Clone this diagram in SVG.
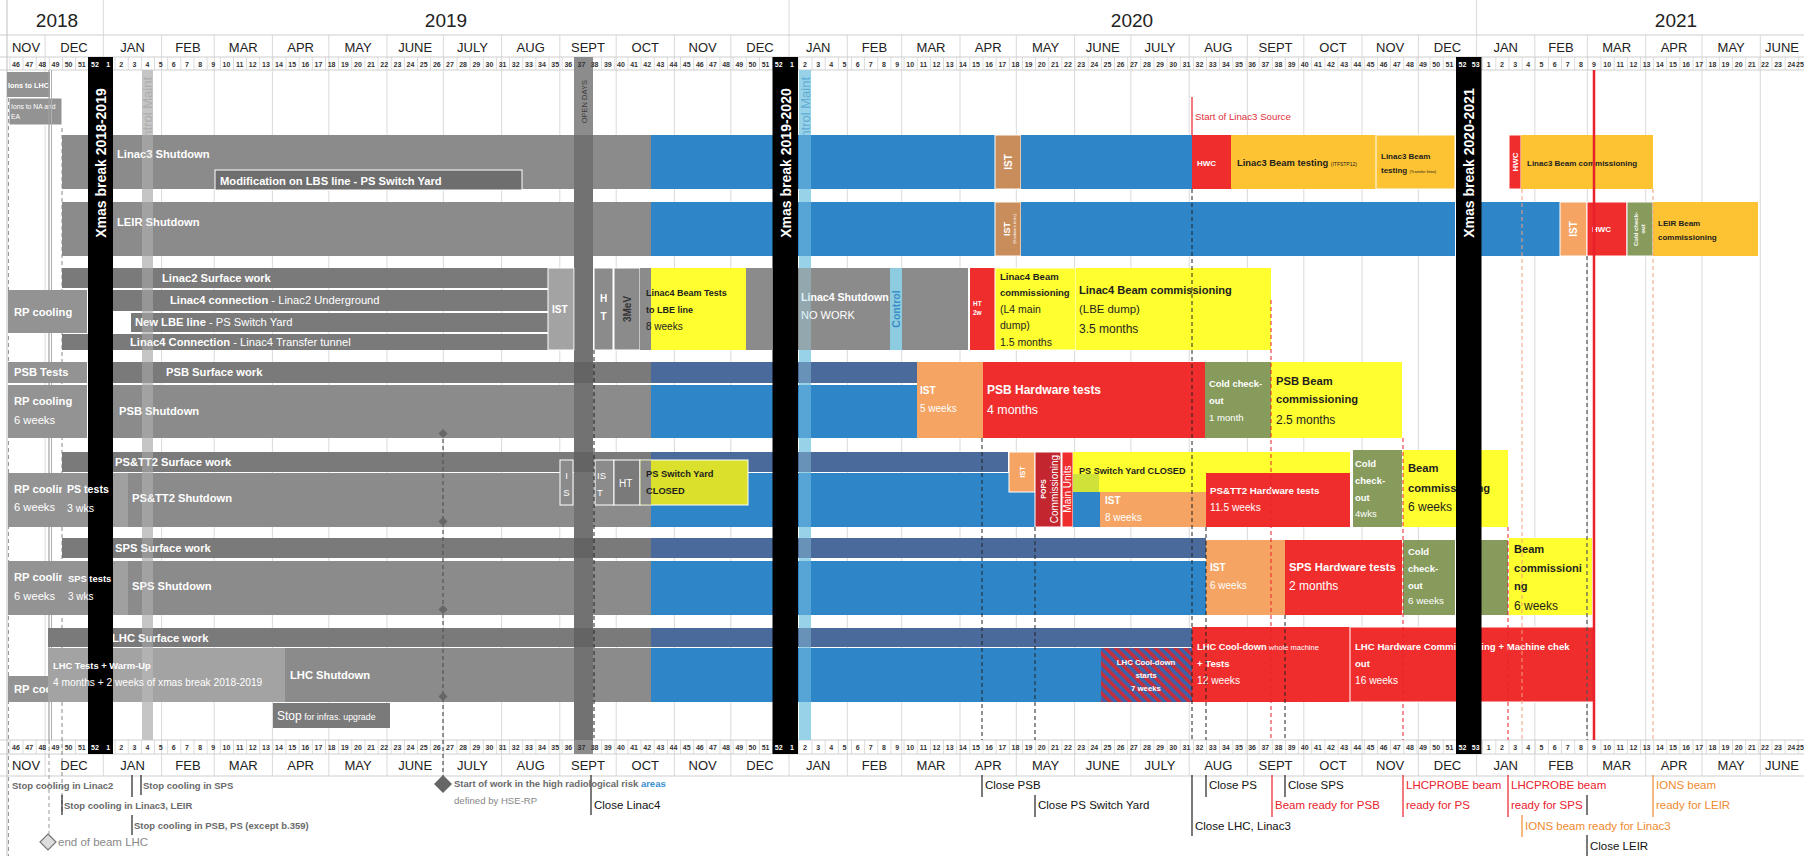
<svg xmlns="http://www.w3.org/2000/svg" width="1804" height="856" viewBox="0 0 1804 856">
<defs>
<style>
text{font-family:'Liberation Sans',Arial,sans-serif}
.g{fill:#8b8b8b}.gs{fill:#7a7a7a}.gl{fill:#a3a3a3}.gb{fill:#939393}
.b{fill:#2e86c8}.bd{fill:#4a6a9c}.r{fill:#f02d2d}.o{fill:#fdc332}.y{fill:#ffff30}
.i{fill:#f5a463}.br{fill:#c98c5b}.gr{fill:#879b5c}.p{fill:#c42630}
.sw{stroke:#fff;stroke-width:1}
.w{fill:#fff;font-weight:bold}
.k{fill:#1e1e1e;font-weight:bold}
.n{font-weight:normal}
.lbl{font-size:11.2px}
.wk{font-size:7px;font-weight:bold;fill:#333;text-anchor:middle}
.wkw{fill:#fff}
.mo{font-size:13px;fill:#222;text-anchor:middle}
.yr{font-size:19px;fill:#222;text-anchor:middle}
.ann{font-size:11.5px;fill:#111}
.red{fill:#e8212b}
.org{fill:#ef8a2e}
.gann{font-size:9.5px;fill:#6a6a6a;font-weight:bold}
.dk{stroke:#222;stroke-width:1;stroke-dasharray:4 3;fill:none}
.dr{stroke:#e8212b;stroke-width:1;stroke-dasharray:4 3;fill:none}
.ds{stroke:#f2a07a;stroke-width:1;stroke-dasharray:4 3;fill:none}
.dg{stroke:#555;stroke-width:1.2;stroke-dasharray:4 3;fill:none}
.tk{stroke:#222;stroke-width:1.2;fill:none}
.tkr{stroke:#e8212b;stroke-width:1.2;fill:none}
.tko{stroke:#ef8a2e;stroke-width:1.2;fill:none}
.xt{fill:#fff;font-weight:bold;font-size:14px;text-anchor:middle}
.dia{fill:#666}
</style>
<pattern id="wkp" x="9.4" y="0" width="13.15" height="20" patternUnits="userSpaceOnUse"><rect width="13.15" height="20" fill="#fff"/><rect width="0.8" height="20" fill="#d4d4d4"/></pattern>
<pattern id="hatch" width="7" height="7" patternUnits="userSpaceOnUse" patternTransform="rotate(-45)"><rect width="7" height="7" fill="#3a63ad"/><rect width="3.5" height="7" fill="#c52f3b"/></pattern>
<clipPath id="clipRP"><rect x="8" y="470" width="54" height="150"/></clipPath>
<clipPath id="clipRP2"><rect x="8" y="676" width="40" height="26"/></clipPath>
</defs>
<rect width="1804" height="856" fill="#fff"/>
<rect x="0" y="57" width="1804" height="13" fill="url(#wkp)"/>
<rect x="0" y="740" width="1804" height="14" fill="url(#wkp)"/>
<g id="grid" stroke="#dadada" stroke-width="1" fill="none">
<path d="M103.3 0V776M789 0V776M1476.6 0V776M45.1 35V776M161.6 35V776M214.2 35V776M272.4 35V776M328.8 35V776M387 35V776M443.4 35V776M501.6 35V776M559.8 35V776M616.2 35V776M674.4 35V776M730.8 35V776M847.3 35V776M901.7 35V776M960 35V776M1016.3 35V776M1074.6 35V776M1130.9 35V776M1189.2 35V776M1247.4 35V776M1303.8 35V776M1362 35V776M1418.4 35V776M1534.8 35V776M1587.4 35V776M1645.7 35V776M1702 35V776M1760.3 35V776"/>
<path d="M0 35H1804M0 57H1804M0 70H1804M0 740H1804M0 754H1804M0 776H1804" stroke="#cfcfcf"/>
<path d="M7 0V856" stroke="#c0c0c0"/>
</g>
<g id="years" class="yr">
<text x="57" y="27">2018</text>
<text x="446" y="27">2019</text>
<text x="1132" y="27">2020</text>
<text x="1676" y="27">2021</text>
</g>
<g id="months" class="mo">
<text x="26" y="51.5">NOV</text><text x="74" y="51.5">DEC</text>
<text x="132.5" y="51.5">JAN</text><text x="188" y="51.5">FEB</text><text x="243.3" y="51.5">MAR</text><text x="300.6" y="51.5">APR</text><text x="358" y="51.5">MAY</text><text x="415.2" y="51.5">JUNE</text><text x="472.5" y="51.5">JULY</text><text x="530.7" y="51.5">AUG</text><text x="588" y="51.5">SEPT</text><text x="645.3" y="51.5">OCT</text><text x="702.6" y="51.5">NOV</text><text x="760" y="51.5">DEC</text>
<text x="818.2" y="51.5">JAN</text><text x="874.5" y="51.5">FEB</text><text x="931" y="51.5">MAR</text><text x="988.2" y="51.5">APR</text><text x="1045.5" y="51.5">MAY</text><text x="1102.8" y="51.5">JUNE</text><text x="1160" y="51.5">JULY</text><text x="1218.3" y="51.5">AUG</text><text x="1275.6" y="51.5">SEPT</text><text x="1333" y="51.5">OCT</text><text x="1390.2" y="51.5">NOV</text><text x="1447.5" y="51.5">DEC</text>
<text x="1505.7" y="51.5">JAN</text><text x="1561" y="51.5">FEB</text><text x="1616.6" y="51.5">MAR</text><text x="1674" y="51.5">APR</text><text x="1731.2" y="51.5">MAY</text><text x="1782" y="51.5">JUNE</text>
</g>
<use href="#months" y="718"/>
<g id="columns">
<rect x="142" y="70" width="11" height="670" fill="#bdbdbd"/>
<text transform="translate(152,77) rotate(-90)" text-anchor="end" font-size="13" fill="#9a9a9a">Control Maint</text>
<rect x="799" y="70" width="12" height="670" fill="#92cde3"/>
<text transform="translate(810,77) rotate(-90)" text-anchor="end" font-size="13" fill="#3d93c4">Control Maint</text>
<rect x="574" y="57" width="19" height="697" fill="#8c8c8c"/>
<text transform="translate(586.5,80) rotate(-90)" text-anchor="end" font-size="7.5" fill="#3c3c3c">OPEN DAYS</text>
</g>
<g id="ions">
<rect x="7" y="72" width="43" height="25" class="gb"/>
<text x="8" y="88" class="w" font-size="7.3">Ions to LHC</text>
<rect x="9" y="98" width="53" height="27" class="gb sw"/>
<text x="11" y="109" class="w n" font-size="6.8">Ions to NA and</text>
<text x="11" y="119" class="w n" font-size="6.8">EA</text>
</g>
<g id="leftlines" fill="none">
<path d="M49 70V740" stroke="#a0a0a0" stroke-width="1.2"/>
<path d="M51.5 70V740" stroke="#b0b0b0"/>
<path d="M49 740V834" stroke="#999" stroke-dasharray="4 3"/>
<path d="M62 128V812" stroke="#888" stroke-dasharray="4 3"/>
<path d="M8.5 98V856" stroke="#999" stroke-dasharray="4 3"/>
</g>
<g id="linac3">
<rect x="62" y="135" width="589" height="54" class="g"/>
<rect x="651" y="135" width="344" height="54" class="b"/>
<rect x="995" y="135" width="26" height="54" class="br sw"/>
<rect x="1021" y="135" width="171" height="54" class="b"/>
<rect x="1192" y="135" width="39" height="54" class="r"/>
<rect x="1231" y="135" width="145" height="54" class="o"/>
<rect x="1376" y="135" width="79" height="54" class="o sw"/>
<rect x="215" y="170" width="307" height="20" fill="#6e6e6e" class="sw"/>
<text x="117" y="158" class="w lbl">Linac3 Shutdown</text>
<text x="220" y="184.5" class="w lbl">Modification on LBS line - PS Switch Yard</text>
<text transform="translate(1011.5,162) rotate(-90)" class="w" font-size="10" text-anchor="middle">IST</text>
<text x="1197" y="166" class="w" font-size="8">HWC</text>
<text x="1237" y="166" class="k" font-size="9.4">Linac3 Beam testing <tspan font-size="5" class="n">(ITFSTP12)</tspan></text>
<text x="1381" y="159" class="k" font-size="8">Linac3 Beam</text>
<text x="1381" y="173" class="k" font-size="8">testing <tspan font-size="4" class="n">(Transfer lines)</tspan></text>
<rect x="1509" y="135" width="12" height="54" class="r sw"/>
<text transform="translate(1518,162) rotate(-90)" class="w" font-size="8" text-anchor="middle">HWC</text>
<rect x="1521" y="135" width="132" height="54" class="o"/>
<text x="1527" y="166" class="k" font-size="8">Linac3 Beam commissioning</text>
</g>
<g id="leir">
<rect x="62" y="202" width="589" height="54" class="g"/>
<rect x="651" y="202" width="344" height="54" class="b"/>
<rect x="995" y="202" width="26" height="54" class="br sw"/>
<rect x="1021" y="202" width="434" height="54" class="b"/>
<text x="117" y="226" class="w lbl">LEIR Shutdown</text>
<text transform="translate(1010,229) rotate(-90)" class="w" font-size="9" text-anchor="middle">IST</text>
<text transform="translate(1016,229) rotate(-90)" class="w n" font-size="4" text-anchor="middle">(Hardware tests)</text>
<rect x="1481" y="202" width="79" height="54" class="b"/>
<rect x="1560" y="202" width="27" height="54" class="i sw"/>
<text transform="translate(1577,229) rotate(-90)" class="w" font-size="10" text-anchor="middle">IST</text>
<rect x="1587" y="202" width="40" height="54" class="r sw"/>
<text x="1592" y="232" class="w" font-size="8">HWC</text>
<rect x="1627" y="202" width="26" height="54" class="gr sw"/>
<text transform="translate(1638,229) rotate(-90)" class="w" font-size="6" text-anchor="middle">Cold check-</text>
<text transform="translate(1645,229) rotate(-90)" class="w" font-size="6" text-anchor="middle">out</text>
<rect x="1653" y="202" width="105" height="54" class="o"/>
<text x="1658" y="226" class="k" font-size="8">LEIR Beam</text>
<text x="1658" y="240" class="k" font-size="8">commissioning</text>
</g>
<g id="linac2-linac4">
<rect x="62" y="268" width="486" height="20" class="gs"/>
<rect x="113" y="290" width="435" height="21" class="gs"/>
<rect x="131" y="313" width="417" height="19" class="gs"/>
<rect x="62" y="334" width="486" height="16" class="gs"/>
<rect x="8" y="290" width="79" height="43" class="gb"/>
<text x="14" y="316" class="w lbl">RP cooling</text>
<text x="162" y="282" class="w lbl">Linac2 Surface work</text>
<text x="170" y="304" class="w lbl">Linac4 connection<tspan class="n"> - Linac2 Underground</tspan></text>
<text x="135" y="326" class="w lbl">New LBE line<tspan class="n"> - PS Switch Yard</tspan></text>
<text x="130" y="346" class="w lbl">Linac4 Connection<tspan class="n"> - Linac4 Transfer tunnel</tspan></text>
<rect x="548" y="268" width="26" height="82" class="gl sw"/>
<text x="552" y="313" class="w" font-size="10">IST</text>
<rect x="594" y="268" width="19" height="82" class="g sw"/>
<text x="603.5" y="302" class="w" font-size="10" text-anchor="middle">H</text>
<text x="603.5" y="320" class="w" font-size="10" text-anchor="middle">T</text>
<rect x="614" y="268" width="26" height="82" class="g sw"/>
<text transform="translate(630.5,309) rotate(-90)" fill="#333" font-weight="bold" font-size="10" text-anchor="middle">3MeV</text>
<rect x="640" y="268" width="11" height="82" class="g"/>
<rect x="651" y="268" width="95" height="82" class="y"/>
<rect x="746" y="268" width="26" height="82" class="g"/>
<text x="646" y="296" class="k" font-size="9">Linac4 Beam Tests</text>
<text x="646" y="313" class="k" font-size="9">to LBE line</text>
<text x="646" y="330" class="k n" font-size="10" fill="#4d4d1a">8 weeks</text>
<rect x="798" y="268" width="92" height="82" class="g"/>
<rect x="890" y="268" width="12" height="82" fill="#8ccbe0"/>
<text transform="translate(899.5,309) rotate(-90)" fill="#3b8fc6" font-weight="bold" font-size="10.5" text-anchor="middle">Control</text>
<rect x="902" y="268" width="66" height="82" class="g"/>
<text x="801" y="301" class="w" font-size="10.6">Linac4 Shutdown</text>
<text x="801" y="319" class="w n" font-size="11">NO WORK</text>
<rect x="970" y="268" width="25" height="82" class="r"/>
<text x="973" y="306" class="w" font-size="6.5">HT</text>
<text x="973" y="315" class="w" font-size="6.5">2w</text>
<rect x="995" y="268" width="81" height="82" class="y sw"/>
<rect x="1076" y="268" width="195" height="82" class="y"/>
<text x="1000" y="280" class="k" font-size="9.5">Linac4 Beam</text>
<text x="1000" y="296" class="k" font-size="9.5">commissioning</text>
<text x="1000" y="313" class="k n" font-size="10.5">(L4 main</text>
<text x="1000" y="329" class="k n" font-size="10.5">dump)</text>
<text x="1000" y="346" class="k n" font-size="10.5">1.5 months</text>
<text x="1079" y="294" class="k" font-size="11.1">Linac4 Beam commissioning</text>
<text x="1079" y="313" class="k n" font-size="11.4">(LBE dump)</text>
<text x="1079" y="333" class="k n" font-size="12">3.5 months</text>
</g>
<g id="psb">
<rect x="8" y="362" width="79" height="21" class="gb"/>
<rect x="113" y="362" width="538" height="21" class="gs"/>
<rect x="651" y="362" width="266" height="21" class="bd"/>
<rect x="113" y="385" width="538" height="53" class="g"/>
<rect x="651" y="385" width="266" height="53" class="b"/>
<rect x="8" y="385" width="79" height="53" class="gb"/>
<text x="14" y="376" class="w lbl">PSB Tests</text>
<text x="166" y="376" class="w lbl">PSB Surface work</text>
<text x="14" y="405" class="w lbl">RP cooling</text>
<text x="14" y="424" class="w n lbl">6 weeks</text>
<text x="119" y="415" class="w lbl">PSB Shutdown</text>
<rect x="917" y="362" width="66" height="76" class="i"/>
<rect x="983" y="362" width="222" height="76" class="r"/>
<rect x="1205" y="362" width="66" height="76" class="gr"/>
<rect x="1271" y="362" width="131" height="76" class="y"/>
<text x="920" y="394" class="w" font-size="10">IST</text>
<text x="920" y="412" class="w n" font-size="10">5 weeks</text>
<text x="987" y="394" class="w" font-size="12">PSB Hardware tests</text>
<text x="987" y="414" class="w n" font-size="12.4">4 months</text>
<text x="1209" y="387" class="w" font-size="9.4">Cold check-</text>
<text x="1209" y="404" class="w" font-size="9.4">out</text>
<text x="1209" y="421" class="w n" font-size="9.6">1 month</text>
<text x="1276" y="385" class="k" font-size="11.2">PSB Beam</text>
<text x="1276" y="403" class="k" font-size="11.2">commissioning</text>
<text x="1276" y="424" class="k n" font-size="12">2.5 months</text>
</g>
<g id="ps-tt2">
<rect x="62" y="452" width="589" height="20" class="gs"/>
<rect x="651" y="452" width="357" height="20" class="bd"/>
<rect x="8" y="473" width="54" height="54" class="gb"/>
<g clip-path="url(#clipRP)">
<text x="14" y="493" class="w lbl">RP cooling</text>
<text x="14" y="511" class="w n lbl">6 weeks</text>
</g>
<rect x="62" y="473" width="26" height="54" class="gb"/>
<rect x="113" y="473" width="15" height="54" fill="#a0a0a0"/>
<rect x="128" y="473" width="523" height="54" class="g"/>
<rect x="651" y="473" width="384" height="54" class="b"/>
<text x="115" y="466" class="w lbl">PS&amp;TT2 Surface work</text>
<text x="132" y="502" class="w lbl">PS&amp;TT2 Shutdown</text>
<rect x="560" y="460" width="13" height="45" class="g sw"/>
<text x="566.5" y="479" class="w n" font-size="9.5" text-anchor="middle">I</text>
<text x="566.5" y="496" class="w n" font-size="9.5" text-anchor="middle">S</text>
<rect x="595" y="460" width="19" height="45" class="g sw"/>
<text x="597" y="479" class="w n" font-size="9.5">IS</text>
<text x="597" y="496" class="w n" font-size="9.5">T</text>
<rect x="614" y="460" width="26" height="45" class="gs sw"/>
<text x="619" y="487" class="w n" font-size="10">HT</text>
<rect x="640" y="460" width="108" height="45" fill="#dbe02c" class="sw"/>
<rect x="640.5" y="460.5" width="10.5" height="44" class="g"/>
<text x="646" y="477" class="k" font-size="9.3">PS Switch Yard</text>
<text x="646" y="494" class="k" font-size="9.3">CLOSED</text>
<rect x="1009" y="452" width="26" height="40" class="i sw"/>
<text transform="translate(1025,472) rotate(-90)" class="w" font-size="7.5" text-anchor="middle">IST</text>
<rect x="1035" y="452" width="26" height="75" class="p sw"/>
<text transform="translate(1045.5,489) rotate(-90)" class="w" font-size="7" text-anchor="middle">POPS</text>
<text transform="translate(1057.5,489) rotate(-90)" class="w n" font-size="10" text-anchor="middle">Commissioning</text>
<rect x="1062" y="452" width="11" height="75" class="r sw"/>
<text transform="translate(1071,489) rotate(-90)" class="w n" font-size="10" text-anchor="middle">Main Units</text>
<rect x="1073" y="452" width="277" height="40" class="y"/>
<rect x="1073" y="474" width="26" height="18" fill="#cfe23a"/>
<rect x="1073" y="492" width="27" height="35" class="b"/>
<rect x="1100" y="492" width="106" height="35" class="i"/>
<rect x="1206" y="473" width="144" height="54" class="r"/>
<text x="1079" y="473.5" class="k" font-size="9.1">PS Switch Yard CLOSED</text>
<text x="1105" y="504" class="w" font-size="10">IST</text>
<text x="1105" y="521" class="w n" font-size="10">8 weeks</text>
<text x="1210" y="494" class="w" font-size="9.7">PS&amp;TT2 Hardware tests</text>
<text x="1210" y="511" class="w n" font-size="10.2">11.5 weeks</text>
<rect x="1353" y="450" width="49" height="77" class="gr"/>
<text x="1355" y="467" class="w" font-size="9.5">Cold</text>
<text x="1355" y="484" class="w" font-size="9.5">check-</text>
<text x="1355" y="501" class="w" font-size="9.5">out</text>
<text x="1355" y="517" class="w n" font-size="9.5">4wks</text>
<rect x="1403" y="450" width="105" height="77" class="y"/>
<text x="1408" y="472" class="k" font-size="11.2">Beam</text>
<text x="1408" y="492" class="k" font-size="11.2">commissioning</text>
<text x="1408" y="511" class="k n" font-size="12">6 weeks</text>
</g>
<g id="sps">
<rect x="62" y="538" width="589" height="20" class="gs"/>
<rect x="651" y="538" width="555" height="20" class="bd"/>
<rect x="8" y="561" width="54" height="54" class="gb"/>
<g clip-path="url(#clipRP)">
<text x="14" y="581" class="w lbl">RP cooling</text>
<text x="14" y="600" class="w n lbl">6 weeks</text>
</g>
<rect x="62" y="561" width="26" height="54" class="gb"/>
<rect x="113" y="561" width="15" height="54" fill="#a0a0a0"/>
<rect x="128" y="561" width="523" height="54" class="g"/>
<rect x="651" y="561" width="555" height="54" class="b"/>
<text x="115" y="552" class="w lbl">SPS Surface work</text>
<text x="132" y="590" class="w lbl">SPS Shutdown</text>
<rect x="1206" y="540" width="79" height="75" class="i"/>
<text x="1210" y="571" class="w" font-size="10">IST</text>
<text x="1210" y="589" class="w n" font-size="10">6 weeks</text>
<rect x="1285" y="540" width="117" height="75" class="r"/>
<text x="1289" y="571" class="w" font-size="11.3">SPS Hardware tests</text>
<text x="1289" y="590" class="w n" font-size="12">2 months</text>
<rect x="1403" y="540" width="52" height="75" class="gr"/>
<rect x="1481" y="540" width="27" height="75" class="gr"/>
<text x="1408" y="555" class="w" font-size="9.5">Cold</text>
<text x="1408" y="572" class="w" font-size="9.5">check-</text>
<text x="1408" y="589" class="w" font-size="9.5">out</text>
<text x="1408" y="604" class="w n" font-size="9.8">6 weeks</text>
<rect x="1509" y="538" width="83" height="77" class="y"/>
<text x="1514" y="553" class="k" font-size="11.1">Beam</text>
<text x="1514" y="572" class="k" font-size="11.1">commissioni</text>
<text x="1514" y="590" class="k" font-size="11.1">ng</text>
<text x="1514" y="610" class="k n" font-size="12">6 weeks</text>
</g>
<g id="lhc">
<rect x="48" y="628" width="603" height="19" class="gs"/>
<rect x="651" y="628" width="541" height="19" class="bd"/>
<rect x="8" y="676" width="40" height="26" class="gb"/>
<g clip-path="url(#clipRP2)">
<text x="14" y="693" class="w lbl">RP cooling</text>
</g>
<rect x="48" y="648" width="237" height="54" class="gl"/>
<rect x="285" y="648" width="366" height="54" class="g"/>
<rect x="651" y="648" width="450" height="54" class="b"/>
<rect x="1101" y="648" width="91" height="54" fill="url(#hatch)"/>
<text x="112" y="641.5" class="w lbl">LHC Surface work</text>
<text x="290" y="679" class="w lbl">LHC Shutdown</text>
<text x="1146" y="665" class="w" font-size="7.8" text-anchor="middle">LHC Cool-down</text>
<text x="1146" y="678" class="w" font-size="7.8" text-anchor="middle">starts</text>
<text x="1146" y="691" class="w" font-size="7.8" text-anchor="middle">7 weeks</text>
<rect x="1192" y="627" width="158" height="75" class="r"/>
<rect x="1350" y="627" width="245" height="75" class="r sw"/>
<text x="1197" y="650" class="w" font-size="9.3">LHC Cool-down<tspan class="n" font-size="7.5"> whole machine</tspan></text>
<text x="1197" y="667" class="w" font-size="9.6">+ Tests</text>
<text x="1197" y="684" class="w n" font-size="10.2">12 weeks</text>
<text x="1355" y="650" class="w" font-size="9.6">LHC Hardware Commissioning + Machine chek</text>
<text x="1355" y="667" class="w" font-size="9.6">out</text>
<text x="1355" y="684" class="w n" font-size="10.2">16 weeks</text>
<rect x="273" y="703" width="117" height="25" class="gs"/>
<text x="277" y="720" class="w n"><tspan font-size="12">Stop</tspan><tspan font-size="8.8"> for infras. upgrade</tspan></text>
</g>
<g id="overlays">
<rect x="142" y="70" width="11" height="670" fill="#d8d8d8" opacity="0.3"/>
<rect x="799" y="70" width="12" height="670" fill="#a4dcf0" opacity="0.35"/>
<rect x="574" y="135" width="19" height="605" fill="#000" opacity="0.18"/>
</g>
<g id="xmas">
<rect x="88" y="57" width="25" height="697" fill="#000"/>
<rect x="772.5" y="57" width="25.5" height="697" fill="#000"/>
<rect x="1456" y="57" width="25.5" height="697" fill="#000"/>
<text class="xt" transform="translate(105.5,163) rotate(-90)">Xmas break 2018-2019</text>
<text class="xt" transform="translate(790.5,163) rotate(-90)">Xmas break 2019-2020</text>
<text class="xt" transform="translate(1474,163) rotate(-90)">Xmas break 2020-2021</text>
</g>
<g id="over-xmas-labels">
<text x="67" y="493" class="w" font-size="10.6">PS tests</text>
<text x="67" y="512" class="w n" font-size="10.6">3 wks</text>
<text x="68" y="582" class="w" font-size="9.4">SPS tests</text>
<text x="68" y="600" class="w n" font-size="10">3 wks</text>
<text x="53" y="669" class="w" font-size="9.4">LHC Tests + Warm-Up</text>
<text x="53" y="686" class="w n" font-size="10.2">4 months + 2 weeks of xmas break 2018-2019</text>
</g>
<g id="weeks" class="wk">
<text y="66.5"><tspan x="16">46</tspan><tspan x="29.2">47</tspan><tspan x="42.3">48</tspan><tspan x="55.5">49</tspan><tspan x="68.6">50</tspan><tspan x="81.8">51</tspan><tspan x="94.9" class="wkw">52</tspan><tspan x="108.1" class="wkw">1</tspan><tspan x="121.2">2</tspan><tspan x="134.4">3</tspan><tspan x="147.5">4</tspan><tspan x="160.7">5</tspan><tspan x="173.8">6</tspan><tspan x="187">7</tspan><tspan x="200.1">8</tspan><tspan x="213.3">9</tspan><tspan x="226.4">10</tspan><tspan x="239.6">11</tspan><tspan x="252.7">12</tspan><tspan x="265.9">13</tspan><tspan x="279">14</tspan><tspan x="292.2">15</tspan><tspan x="305.3">16</tspan><tspan x="318.5">17</tspan><tspan x="331.6">18</tspan><tspan x="344.8">19</tspan><tspan x="357.9">20</tspan><tspan x="371.1">21</tspan><tspan x="384.2">22</tspan><tspan x="397.4">23</tspan><tspan x="410.5">24</tspan><tspan x="423.7">25</tspan><tspan x="436.8">26</tspan><tspan x="450">27</tspan><tspan x="463.1">28</tspan><tspan x="476.3">29</tspan><tspan x="489.4">30</tspan><tspan x="502.6">31</tspan><tspan x="515.7">32</tspan><tspan x="528.9">33</tspan><tspan x="542">34</tspan><tspan x="555.2">35</tspan><tspan x="568.3">36</tspan><tspan x="581.5">37</tspan><tspan x="594.6">38</tspan><tspan x="607.8">39</tspan><tspan x="620.9">40</tspan><tspan x="634.1">41</tspan><tspan x="647.2">42</tspan><tspan x="660.4">43</tspan><tspan x="673.5">44</tspan><tspan x="686.7">45</tspan><tspan x="699.8">46</tspan><tspan x="713">47</tspan><tspan x="726.1">48</tspan><tspan x="739.3">49</tspan><tspan x="752.4">50</tspan><tspan x="765.6">51</tspan><tspan x="778.7" class="wkw">52</tspan><tspan x="791.9" class="wkw">1</tspan><tspan x="805">2</tspan><tspan x="818.2">3</tspan><tspan x="831.3">4</tspan><tspan x="844.5">5</tspan><tspan x="857.6">6</tspan><tspan x="870.8">7</tspan><tspan x="883.9">8</tspan><tspan x="897.1">9</tspan><tspan x="910.2">10</tspan><tspan x="923.4">11</tspan><tspan x="936.5">12</tspan><tspan x="949.7">13</tspan><tspan x="962.8">14</tspan><tspan x="976">15</tspan><tspan x="989.1">16</tspan><tspan x="1002.3">17</tspan><tspan x="1015.4">18</tspan><tspan x="1028.6">19</tspan><tspan x="1041.7">20</tspan><tspan x="1054.9">21</tspan><tspan x="1068">22</tspan><tspan x="1081.2">23</tspan><tspan x="1094.3">24</tspan><tspan x="1107.5">25</tspan><tspan x="1120.6">26</tspan><tspan x="1133.8">27</tspan><tspan x="1146.9">28</tspan><tspan x="1160.1">29</tspan><tspan x="1173.2">30</tspan><tspan x="1186.4">31</tspan><tspan x="1199.5">32</tspan><tspan x="1212.7">33</tspan><tspan x="1225.8">34</tspan><tspan x="1239">35</tspan><tspan x="1252.1">36</tspan><tspan x="1265.3">37</tspan><tspan x="1278.4">38</tspan><tspan x="1291.6">39</tspan><tspan x="1304.7">40</tspan><tspan x="1317.9">41</tspan><tspan x="1331">42</tspan><tspan x="1344.2">43</tspan><tspan x="1357.3">44</tspan><tspan x="1370.5">45</tspan><tspan x="1383.6">46</tspan><tspan x="1396.8">47</tspan><tspan x="1409.9">48</tspan><tspan x="1423.1">49</tspan><tspan x="1436.2">50</tspan><tspan x="1449.4">51</tspan><tspan x="1462.5" class="wkw">52</tspan><tspan x="1475.7" class="wkw">53</tspan><tspan x="1488.8">1</tspan><tspan x="1502">2</tspan><tspan x="1515.1">3</tspan><tspan x="1528.3">4</tspan><tspan x="1541.4">5</tspan><tspan x="1554.6">6</tspan><tspan x="1567.7">7</tspan><tspan x="1580.9">8</tspan><tspan x="1594">9</tspan><tspan x="1607.2">10</tspan><tspan x="1620.3">11</tspan><tspan x="1633.5">12</tspan><tspan x="1646.6">13</tspan><tspan x="1659.8">14</tspan><tspan x="1672.9">15</tspan><tspan x="1686.1">16</tspan><tspan x="1699.2">17</tspan><tspan x="1712.4">18</tspan><tspan x="1725.5">19</tspan><tspan x="1738.7">20</tspan><tspan x="1751.8">21</tspan><tspan x="1765">22</tspan><tspan x="1778.1">23</tspan><tspan x="1791.3">24</tspan><tspan x="1800">25</tspan></text>
</g>
<use href="#weeks" y="683.5"/>
<g id="connectors">
<path class="dk" d="M594 350V738"/>
<path class="dk" d="M982 438V740"/>
<path class="dk" d="M1035 527V740"/>
<path class="dk" d="M1192 189V740"/>
<path class="dk" d="M1206 527V740"/>
<path class="dk" d="M1285 615V740"/>
<path class="dr" d="M1271 300V740"/>
<path class="dr" d="M1403 438V740"/>
<path class="dr" d="M1508 527V740"/>
<path class="ds" d="M1522 189V740"/>
<path class="ds" d="M1653 189V740"/>
<path class="dg" d="M1587 256V740"/>
<path class="dg" d="M443 432V780"/>
<path d="M1594 70V740" stroke="#e8212b" stroke-width="2.5" fill="none"/>
<path d="M1192 97V135" stroke="#e8212b" stroke-width="1.2" fill="none"/>
<path class="dia" d="M443 429l4.5 4.5-4.5 4.5-4.5-4.5z"/>
<path class="dia" d="M443 517l4.5 4.5-4.5 4.5-4.5-4.5z"/>
<path class="dia" d="M443 605l4.5 4.5-4.5 4.5-4.5-4.5z"/>
<path class="dia" d="M443 692l4.5 4.5-4.5 4.5-4.5-4.5z"/>
<path class="dia" d="M443 775l9 9-9 9-9-9z"/>
<path d="M48 834l8 8-8 8-8-8z" fill="#ddd" stroke="#777" stroke-width="1.2"/>
<path class="tk" d="M132 775V797M132 815V835M141 775V795M62 795V815M591 775V815M982 775V797M1035 795V817M1192 775V836M1206 775V797M1285 775V797M1587 795V815M1587 835V856"/>
<path class="tkr" d="M1272 775V817M1403 775V817M1508 775V817"/>
<path class="tko" d="M1522 815V837M1653 775V817"/>
</g>
<g id="annotations">
<text x="1195" y="120" font-size="9.7" fill="#e0303a">Start of Linac3 Source</text>
<text x="12" y="789" class="gann">Stop cooling in Linac2</text>
<text x="143" y="789" class="gann">Stop cooling in SPS</text>
<text x="64" y="809" class="gann">Stop cooling in Linac3, LEIR</text>
<text x="134" y="829" class="gann">Stop cooling in PSB, PS (except b.359)</text>
<text x="58" y="846" font-size="11.5" fill="#888">end of beam LHC</text>
<text x="454" y="787" class="gann" font-size="10">Start of work in the high radiological risk <tspan fill="#3a8fd0">areas</tspan></text>
<text x="454" y="804" font-size="9.6" fill="#888">defined by HSE-RP</text>
<text x="594" y="809" class="ann">Close Linac4</text>
<text x="985" y="789" class="ann">Close PSB</text>
<text x="1038" y="809" class="ann">Close PS Switch Yard</text>
<text x="1195" y="830" class="ann">Close LHC, Linac3</text>
<text x="1209" y="789" class="ann">Close PS</text>
<text x="1288" y="789" class="ann">Close SPS</text>
<text x="1275" y="809" class="ann red">Beam ready for PSB</text>
<text x="1406" y="789" class="ann red">LHCPROBE beam</text>
<text x="1406" y="809" class="ann red">ready for PS</text>
<text x="1511" y="789" class="ann red">LHCPROBE beam</text>
<text x="1511" y="809" class="ann red">ready for SPS</text>
<text x="1525" y="830" class="ann org">IONS beam ready for Linac3</text>
<text x="1656" y="789" class="ann org">IONS beam</text>
<text x="1656" y="809" class="ann org">ready for LEIR</text>
<text x="1590" y="850" class="ann">Close LEIR</text>
</g>
</svg>
